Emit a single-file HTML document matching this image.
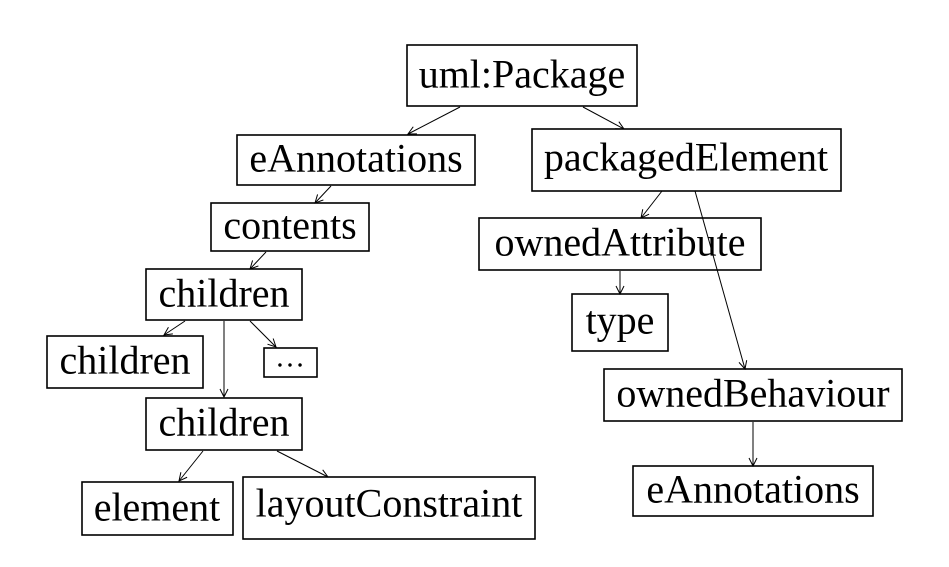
<!DOCTYPE html>
<html><head><style>
body{margin:0;background:#fff}
svg text{font-family:"Liberation Serif",serif;font-size:40px;fill:#000;text-anchor:middle;dominant-baseline:central}
</style></head><body>
<svg width="949" height="562" viewBox="0 0 949 562" xmlns="http://www.w3.org/2000/svg">
<defs><marker id="a" markerWidth="10" markerHeight="10" refX="9" refY="5" orient="auto" markerUnits="userSpaceOnUse"><path d="M1,1 L9,5 L1,9" fill="none" stroke="#000" stroke-width="1"/></marker></defs>
<g fill="none" stroke="#000" stroke-width="1.6">
<rect x="407" y="45" width="230" height="61"/>
<rect x="237" y="135" width="238" height="50"/>
<rect x="211" y="203" width="158" height="48"/>
<rect x="146" y="269" width="156" height="51"/>
<rect x="47" y="336" width="156" height="52"/>
<rect x="264" y="348" width="53" height="29"/>
<rect x="146" y="398" width="156" height="52"/>
<rect x="82" y="482" width="151" height="53"/>
<rect x="243" y="477" width="292" height="62"/>
<rect x="532" y="129" width="309" height="62"/>
<rect x="479" y="218" width="282" height="52"/>
<rect x="572" y="294" width="96" height="57"/>
<rect x="604" y="369" width="298" height="52"/>
<rect x="633" y="466" width="240" height="50"/>
</g>
<g stroke="#000" stroke-width="1" marker-end="url(#a)">
<line x1="460" y1="107" x2="408" y2="134"/>
<line x1="583" y1="107" x2="624" y2="129"/>
<line x1="331" y1="186" x2="315" y2="203"/>
<line x1="662" y1="191" x2="641" y2="218"/>
<line x1="695" y1="191" x2="745" y2="369"/>
<line x1="266" y1="252" x2="250" y2="269"/>
<line x1="620" y1="271" x2="620" y2="294"/>
<line x1="185" y1="321" x2="164" y2="335"/>
<line x1="250" y1="321" x2="276" y2="347"/>
<line x1="224" y1="321" x2="224" y2="397"/>
<line x1="203" y1="451" x2="179" y2="481"/>
<line x1="277" y1="451" x2="328" y2="477"/>
<line x1="753" y1="422" x2="753" y2="466"/>
</g>
<text x="522" y="74">uml:Package</text>
<text x="356" y="158">eAnnotations</text>
<text x="290" y="225">contents</text>
<text x="224" y="293">children</text>
<text x="125" y="360">children</text>
<text x="290" y="357" style="font-size:30px">…</text>
<text x="224" y="422">children</text>
<text x="157" y="507">element</text>
<text x="389" y="503">layoutConstraint</text>
<text x="686" y="157">packagedElement</text>
<text x="620" y="242">ownedAttribute</text>
<text x="620" y="320">type</text>
<text x="753" y="393">ownedBehaviour</text>
<text x="753" y="489">eAnnotations</text>
</svg>
</body></html>
